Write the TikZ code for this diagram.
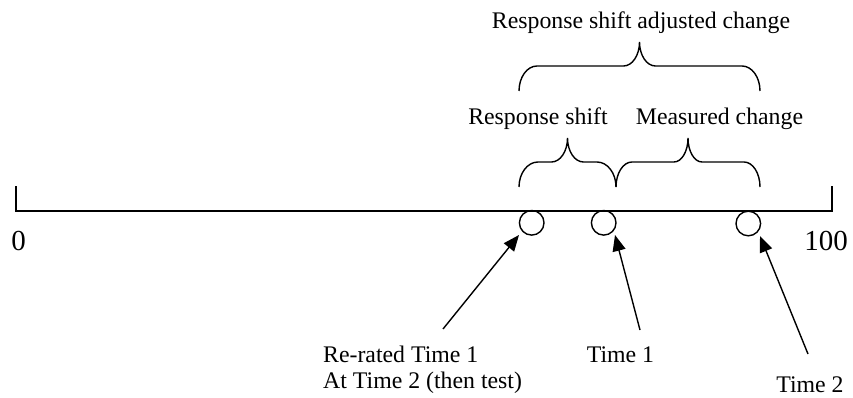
\documentclass[tikz,border=0pt]{standalone}
\usepackage{fontspec}
\setmainfont{Liberation Serif}
\usetikzlibrary{arrows.meta}
\newcommand{\drawcurlybrace}[7]{% #1 x1, #2 x2, #3 y ends, #4 y horizontal, #5 y tip, #6 end corner, #7 tip corner
  \pgfmathsetmacro\bxm{(#1+#2)/2}
  \pgfmathsetmacro\bka{0.5523*(#3-#4)}
  \pgfmathsetmacro\bkb{0.5523*(#4-#5)}
  \draw[bracestyle] (#1,#3) .. controls (#1,#3-\bka) and (#1+#6-0.5523*#6,#4) .. (#1+#6,#4)
    -- (\bxm-#7,#4) .. controls (\bxm-#7+0.5523*#7,#4) and (\bxm,#5+\bkb) .. (\bxm,#5)
    .. controls (\bxm,#5+\bkb) and (\bxm+#7-0.5523*#7,#4) .. (\bxm+#7,#4)
    -- (#2-#6,#4) .. controls (#2-#6+0.5523*#6,#4) and (#2,#3-\bka) .. (#2,#3);
}
\begin{document}
\begin{tikzpicture}[x=1pt,y=-1pt,
  axis/.style={line width=1.7pt},
  bracestyle/.style={line width=1.4pt},
  dot/.style={circle,draw,line width=1.4pt,minimum size=24.6pt,inner sep=0pt},
  arr/.style={line width=1.4pt,-{Triangle[length=16pt,width=13pt]}},
  lab/.style={inner sep=0pt,font=\fontsize{23.8}{26}\selectfont},
  num/.style={inner sep=0pt,font=\fontsize{29}{32}\selectfont}]
\useasboundingbox (0,0) rectangle (853,398);
% axis
\coordinate (L) at (16,186);
\coordinate (Lb) at (16,211);
\coordinate (Rb) at (831.7,211);
\coordinate (R) at (831.7,186);
\draw[axis] (L) -- (Lb) -- (Rb) -- (R);
\node[num,anchor=base] (zero) at (18.5,250) {0};
\node[num,anchor=base] (hundred) at (826,250) {100};
% circles
\node[dot] (c1) at (531.7,222.8) {};
\node[dot] (c2) at (603.7,222.8) {};
\node[dot] (c3) at (748.3,223.5) {};
% braces
\drawcurlybrace{519}{760}{91}{66}{42}{18}{16}
\drawcurlybrace{519}{616}{187}{162}{138}{19}{16}
\drawcurlybrace{616}{760}{187}{162}{138}{16}{14}
% brace labels
\node[lab,anchor=base] (rsac) at (641,29) {Response shift adjusted change};
\node[lab,anchor=base] (rs) at (538,125) {Response shift};
\node[lab,anchor=base] (mc) at (719.5,125) {Measured change};
% bottom labels
\node[lab,anchor=base west,align=left] (rerated) at (323,388) {Re-rated Time 1\\At Time 2 (then test)};
\node[lab,anchor=base] (t1lab) at (620.5,362) {Time 1};
\node[lab,anchor=base] (t2lab) at (810,392) {Time 2};
% arrows
\coordinate (a1) at (443,329);
\coordinate (p1) at (519,235);
\coordinate (a2) at (640,330);
\coordinate (p2) at (615,235);
\coordinate (a3) at (808,354);
\coordinate (p3) at (760,236);
\draw[arr] (a1) -- (p1);
\draw[arr] (a2) -- (p2);
\draw[arr] (a3) -- (p3);
\end{tikzpicture}
\end{document}
